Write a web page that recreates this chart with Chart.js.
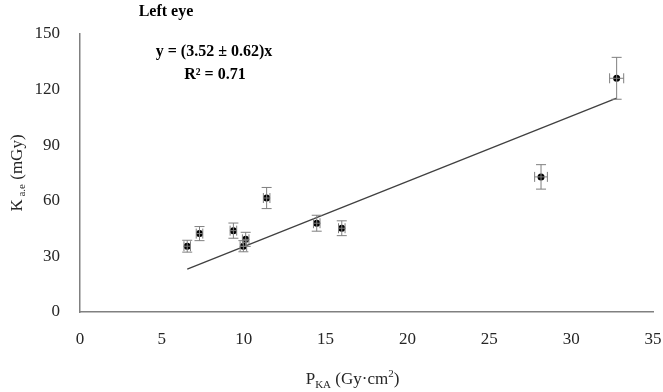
<!DOCTYPE html>
<html lang="en">
<head>
  <meta charset="UTF-8">
  <script src="https://cdn.jsdelivr.net/npm/chart.js"></script>
  <title>Left eye</title>
  <style>
    body { margin: 0; background: #fff; }
    #wrap { width: 663px; height: 392px; }
  </style>
</head>
<body>
  <div id="wrap"><canvas id="chart"></canvas></div>
  <script>
    // values
    const pka = [6.55, 7.3, 9.37, 9.98, 10.12, 11.4, 14.46, 15.99, 28.16, 32.78];
    const kae = [35.5, 42.3, 43.9, 35.5, 39.2, 61.5, 47.9, 45.2, 72.9, 126.1];
    const kaeErr = [3.2, 3.8, 4.1, 3.0, 3.8, 5.7, 4.3, 4.0, 6.6, 11.3];
    const pkaErr = [0.2, 0.2, 0.2, 0.2, 0.2, 0.2, 0.2, 0.2, 0.39, 0.43];
    const trendX = [6.55, 32.78];
    const trendY = [23.1, 115.4];
    const xTicks = [0, 5, 10, 15, 20, 25, 30, 35];
    const yTicks = [0, 30, 60, 90, 120, 150];

    const serif = '"Liberation Serif", "Times New Roman", serif';

    const errorBars = {
      id: 'errorBars',
      afterDatasetsDraw(chart) {
        const ctx = chart.ctx, xs = chart.scales.x, ys = chart.scales.y;
        ctx.save();
        ctx.strokeStyle = '#7f7f7f';
        ctx.lineWidth = 1;
        pka.forEach((x, i) => {
          const px = xs.getPixelForValue(x), py = ys.getPixelForValue(kae[i]);
          const y1 = ys.getPixelForValue(kae[i] + kaeErr[i]);
          const y2 = ys.getPixelForValue(kae[i] - kaeErr[i]);
          const x1 = xs.getPixelForValue(x - pkaErr[i]);
          const x2 = xs.getPixelForValue(x + pkaErr[i]);
          ctx.beginPath();
          ctx.moveTo(px, y1); ctx.lineTo(px, y2);
          ctx.moveTo(px - 5, y1); ctx.lineTo(px + 5, y1);
          ctx.moveTo(px - 5, y2); ctx.lineTo(px + 5, y2);
          ctx.moveTo(x1, py); ctx.lineTo(x2, py);
          ctx.moveTo(x1, py - 5); ctx.lineTo(x1, py + 5);
          ctx.moveTo(x2, py - 5); ctx.lineTo(x2, py + 5);
          ctx.stroke();
        });
        ctx.restore();
      }
    };

    const labels = {
      id: 'labels',
      afterDraw(chart) {
        const ctx = chart.ctx, a = chart.chartArea;
        ctx.save();
        ctx.fillStyle = '#000';
        ctx.textAlign = 'center';
        ctx.textBaseline = 'alphabetic';
        ctx.font = 'bold 16px ' + serif;
        ctx.fillText('Left eye', 166, 16);
        ctx.fillText('y = (3.52 \u00b1 0.62)x', 214, 56);
        ctx.fillText('R\u00b2 = 0.71', 215, 79);

        // x axis title with subscript
        ctx.fillStyle = '#262626';
        ctx.textAlign = 'left';
        const cx = (a.left + a.right) / 2 - 14;
        const parts = [['P', '17px', 0], ['KA', '11px', 4], [' (Gy\u00b7cm', '17px', 0], ['2', '11px', -7], [')', '17px', 0]];
        let w = 0;
        parts.forEach(p => { ctx.font = p[1] + ' ' + serif; w += ctx.measureText(p[0]).width; });
        let x = cx - w / 2;
        parts.forEach(p => {
          ctx.font = p[1] + ' ' + serif;
          ctx.fillText(p[0], x, 384 + p[2]);
          x += ctx.measureText(p[0]).width;
        });

        // y axis title, rotated
        ctx.translate(22, (a.top + a.bottom) / 2);
        ctx.rotate(-Math.PI / 2);
        const yparts = [['K', '17px', 0], [' a.e', '11px', 3], [' (mGy)', '17px', 0]];
        w = 0;
        yparts.forEach(p => { ctx.font = p[1] + ' ' + serif; w += ctx.measureText(p[0]).width; });
        x = -w / 2;
        yparts.forEach(p => {
          ctx.font = p[1] + ' ' + serif;
          ctx.fillText(p[0], x, p[2]);
          x += ctx.measureText(p[0]).width;
        });
        ctx.restore();
      }
    };

    new Chart(document.getElementById('chart'), {
      type: 'scatter',
      data: {
        datasets: [
          {
            data: pka.map((x, i) => ({ x: x, y: kae[i] })),
            pointRadius: 3.5,
            pointBackgroundColor: '#000',
            pointBorderColor: '#000',
            pointBorderWidth: 0
          },
          {
            type: 'line',
            data: trendX.map((x, i) => ({ x: x, y: trendY[i] })),
            borderColor: '#404040',
            borderWidth: 1.3,
            pointRadius: 0,
            fill: false
          }
        ]
      },
      plugins: [errorBars, labels],
      options: {
        responsive: true,
        maintainAspectRatio: false,
        animation: false,
        layout: { padding: { top: 34, right: 10, left: 0, bottom: 0 } },
        plugins: { legend: { display: false }, tooltip: { enabled: false } },
        scales: {
          x: {
            type: 'linear',
            min: 0, max: 35,
            afterBuildTicks: s => { s.ticks = xTicks.map(v => ({ value: v })); },
            afterFit: s => { s.height = 80; s.paddingLeft = 0; s.paddingRight = 0; },
            grid: { display: false, drawTicks: false },
            border: { color: '#808080', width: 1.5 },
            ticks: { padding: 17, color: '#262626', font: { family: serif, size: 17 } }
          },
          y: {
            min: 0, max: 150,
            afterBuildTicks: s => { s.ticks = yTicks.map(v => ({ value: v })); },
            afterFit: s => { s.width = 80; s.paddingTop = 0; s.paddingBottom = 0; },
            grid: { display: false, drawTicks: false },
            border: { color: '#808080', width: 1.5 },
            ticks: { padding: 20, color: '#262626', font: { family: serif, size: 17 } }
          }
        }
      }
    });
  </script>
</body>
</html>
